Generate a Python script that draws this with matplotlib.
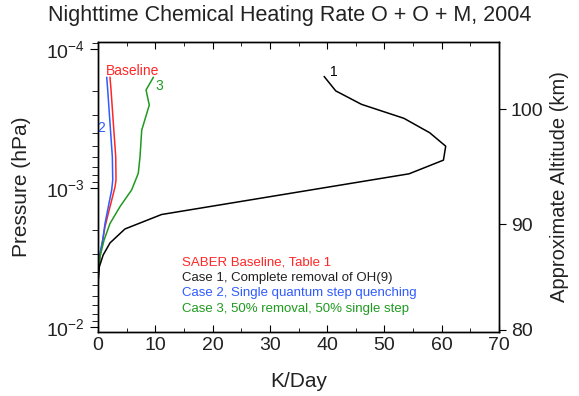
import matplotlib
matplotlib.use("Agg")
import matplotlib.pyplot as plt
import numpy as np
from matplotlib.ticker import MultipleLocator, LogLocator, NullFormatter, FixedLocator

plt.rcParams['font.family'] = ['Liberation Sans', 'DejaVu Sans']
plt.rcParams['mathtext.fontset'] = 'custom'
plt.rcParams['mathtext.rm'] = 'Liberation Sans'

# heating rate (K/day) vs pressure (hPa)
p_case1 = [1.58e-4, 2.0e-4, 2.5e-4, 3.15e-4, 4.0e-4, 5.0e-4, 6.3e-4, 7.9e-4, 1.55e-3,
           1.97e-3, 2.48e-3, 3.03e-3, 3.68e-3, 4.6e-3, 6.0e-3, 1.1e-2]
k_case1 = [39.5, 41.5, 46.0, 53.4, 57.9, 60.7, 60.3, 54.3, 11.1,
           4.7, 2.1, 0.9, 0.23, 0.05, 0.0, 0.0]

p_base = [1.6e-4, 1.97e-4, 3.4e-4, 5.96e-4, 8.75e-4, 9.8e-4, 1.22e-3, 1.52e-3,
          1.9e-3, 2.37e-3, 3.1e-3, 4.0e-3, 6.0e-3, 1.1e-2]
k_base = [2.09, 2.27, 2.67, 3.09, 3.14, 2.97, 2.39, 1.8,
          1.22, 0.82, 0.35, 0.05, 0.0, 0.0]

p_case2 = [1.6e-4, 1.97e-4, 3.4e-4, 5.96e-4, 8.75e-4, 1.03e-3, 1.36e-3, 1.8e-3,
           2.37e-3, 3.0e-3, 4.0e-3, 6.0e-3, 1.1e-2]
k_case2 = [1.52, 1.69, 2.09, 2.5, 2.57, 2.39, 1.8, 1.22,
           0.82, 0.3, 0.05, 0.0, 0.0]

p_case3 = [1.6e-4, 1.97e-4, 2.53e-4, 3.83e-4, 5.96e-4, 7.83e-4, 1.03e-3, 1.36e-3,
           1.8e-3, 2.37e-3, 3.1e-3, 4.1e-3, 6.0e-3, 1.1e-2]
k_case3 = [9.65, 8.38, 8.95, 7.63, 7.33, 7.03, 5.88, 3.84,
           2.09, 1.05, 0.35, 0.05, 0.0, 0.0]

alt_ticks = [80, 90, 100]
alt_pressures = [1.05e-2, 1.82e-3, 2.7e-4]

legend_texts = ['SABER Baseline, Table 1', 'Case 1, Complete removal of OH(9)',
                'Case 2, Single quantum step quenching', 'Case 3, 50% removal, 50% single step']

red = '#ff2626'
black = '#000000'
blue = '#2f5bff'
green = '#1f9a1f'
txt = '#222222'

fig = plt.figure(figsize=(5.79, 3.96), dpi=100)
ax = fig.add_axes([0.1693, 0.1616, 0.6925, 0.7323])

ax.plot(k_base, p_base, color=red, lw=1.1)
ax.plot(k_case2, p_case2, color=blue, lw=1.1)
ax.plot(k_case3, p_case3, color=green, lw=1.1)
ax.plot(k_case1, p_case1, color=black, lw=1.1)

ax.set_yscale('log')
ax.set_ylim(1.086e-2, 8.9e-5)
ax.set_xlim(0, 70)

# curve labels
ax.text(1.4, 1.43e-4, 'Baseline', color=red, fontsize=10, va='center', ha='left')
ax.text(10.0, 1.85e-4, '3', color=green, fontsize=10, va='center', ha='left')
ax.text(1.2, 3.7e-4, '2', color=blue, fontsize=10, va='center', ha='right')
ax.text(40.5, 1.46e-4, '1', color=black, fontsize=10, va='center', ha='left')

for i, (s, c) in enumerate(zip(legend_texts, [red, txt, blue, green])):
    ax.text(0.209, 0.24 - i * 0.0535, s, color=c, fontsize=9.5,
            transform=ax.transAxes, va='center', ha='left')

ax.xaxis.set_major_locator(MultipleLocator(10))
ax.xaxis.set_minor_locator(MultipleLocator(5))
ax.tick_params(axis='x', which='both', direction='in', top=True, bottom=True,
               labelsize=14, labelcolor=txt)
ax.tick_params(axis='x', which='major', length=5)
ax.tick_params(axis='x', which='minor', length=3)

ax.yaxis.set_major_locator(FixedLocator([1e-2, 1e-3, 1e-4]))
ax.set_yticklabels([r'$\mathregular{10^{-2}}$', r'$\mathregular{10^{-3}}$', r'$\mathregular{10^{-4}}$'])
ax.yaxis.set_minor_locator(LogLocator(base=10, subs=np.arange(2, 10)))
ax.yaxis.set_minor_formatter(NullFormatter())
ax.tick_params(axis='y', which='both', direction='out', right=False,
               labelsize=14, labelcolor=txt)
ax.tick_params(axis='y', which='major', length=6)
ax.tick_params(axis='y', which='minor', length=4)

ax.set_xlabel('K/Day', fontsize=15, color=txt, labelpad=13)
ax.set_ylabel('Pressure (hPa)', fontsize=15, color=txt, labelpad=11)
fig.text(0.5, 1 - 15 / 396, 'Nighttime Chemical Heating Rate O + O + M, 2004',
         fontsize=15.5, color=txt, ha='center', va='center')

ax2 = ax.twinx()
ax2.set_yscale('log')
ax2.set_ylim(ax.get_ylim())
ax2.yaxis.set_major_locator(FixedLocator(alt_pressures))
ax2.set_yticklabels([str(a) for a in alt_ticks])
ax2.yaxis.set_minor_locator(FixedLocator([]))
ax2.tick_params(axis='y', which='major', direction='out', length=5,
                labelsize=14, labelcolor=txt)
ax2.set_ylabel('Approximate Altitude (km)', fontsize=14.5, color=txt, labelpad=5)

for a in (ax, ax2):
    for sp in a.spines.values():
        sp.set_linewidth(1.0)

fig.savefig('out.png', dpi=100)
